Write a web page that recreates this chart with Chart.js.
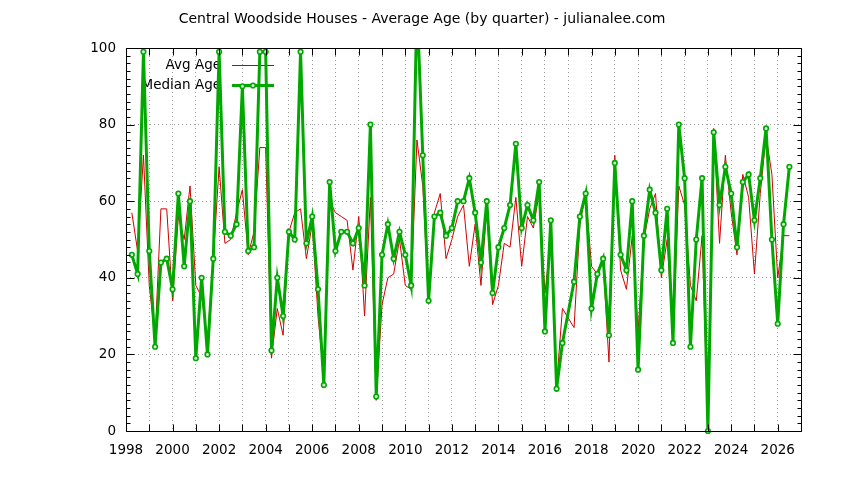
<!DOCTYPE html>
<html lang="en">

<head>
    <meta charset="UTF-8">
    <title>Central Woodside Houses - Average Age</title>
    <script src="https://cdn.jsdelivr.net/npm/chart.js"></script>
    <style>
        html, body { margin: 0; padding: 0; background: #fff; }
    </style>
</head>

<body>
    <canvas id="ageChart" width="844" height="480"></canvas>

    <script>
        // quarterly figures
        // (2017 Q1 has no data point in the source)
        const quarters = [
            '1998Q2', '1998Q3', '1998Q4',
            '1999Q1', '1999Q2', '1999Q3', '1999Q4',
            '2000Q1', '2000Q2', '2000Q3', '2000Q4',
            '2001Q1', '2001Q2', '2001Q3', '2001Q4',
            '2002Q1', '2002Q2', '2002Q3', '2002Q4',
            '2003Q1', '2003Q2', '2003Q3', '2003Q4',
            '2004Q1', '2004Q2', '2004Q3', '2004Q4',
            '2005Q1', '2005Q2', '2005Q3', '2005Q4',
            '2006Q1', '2006Q2', '2006Q3', '2006Q4',
            '2007Q1', '2007Q2', '2007Q3', '2007Q4',
            '2008Q1', '2008Q2', '2008Q3', '2008Q4',
            '2009Q1', '2009Q2', '2009Q3', '2009Q4',
            '2010Q1', '2010Q2', '2010Q3', '2010Q4',
            '2011Q1', '2011Q2', '2011Q3', '2011Q4',
            '2012Q1', '2012Q2', '2012Q3', '2012Q4',
            '2013Q1', '2013Q2', '2013Q3', '2013Q4',
            '2014Q1', '2014Q2', '2014Q3', '2014Q4',
            '2015Q1', '2015Q2', '2015Q3', '2015Q4',
            '2016Q1', '2016Q2', '2016Q3', '2016Q4',
            '2017Q2', '2017Q3', '2017Q4',
            '2018Q1', '2018Q2', '2018Q3', '2018Q4',
            '2019Q1', '2019Q2', '2019Q3', '2019Q4',
            '2020Q1', '2020Q2', '2020Q3', '2020Q4',
            '2021Q1', '2021Q2', '2021Q3', '2021Q4',
            '2022Q1', '2022Q2', '2022Q3', '2022Q4',
            '2023Q1', '2023Q2', '2023Q3', '2023Q4',
            '2024Q1', '2024Q2', '2024Q3', '2024Q4',
            '2025Q1', '2025Q2', '2025Q3', '2025Q4',
            '2026Q1', '2026Q2', '2026Q3'
        ];

        const avgAge = [
            57, 47, 72,
            38, 24, 58, 58,
            34, 56, 50, 64,
            38, 35, 24, 45,
            69, 49, 50, 57,
            63, 46, 52, 74,
            74, 19, 32, 25,
            52, 57, 58, 45,
            54, 30, 14, 60,
            57, 56, 55, 42,
            56, 30, 61, 8,
            33, 40, 41, 50,
            38, 37, 76, 64,
            34, 57, 62, 45,
            50, 56, 59, 43,
            54, 38, 58, 33,
            38, 49, 48, 61,
            43, 56, 53, 62,
            36, 50, 12, 32,
            27, 54, 62,
            43, 41, 44, 18,
            72, 42, 37, 51,
            26, 50, 58, 62,
            40, 50, 24, 64,
            59, 38, 34, 51,
            2, 79, 49, 72,
            57, 46, 67, 61,
            41, 62, 77, 67,
            40, 51, 51
        ];

        const medianAge = [
            46, 41, 99,
            47, 22, 44, 45,
            37, 62, 43, 60,
            19, 40, 20, 45,
            99, 52, 51, 54,
            90, 47, 48, 99,
            99, 21, 40, 30,
            52, 50, 99, 49,
            56, 37, 12, 65,
            47, 52, 52, 49,
            53, 38, 80, 9,
            46, 54, 45, 52,
            46, 38, 112, 72,
            34, 56, 57, 51,
            53, 60, 60, 66,
            57, 44, 60, 36,
            48, 53, 59, 75,
            53, 59, 55, 65,
            26, 55, 11, 23,
            39, 56, 62,
            32, 41, 45, 25,
            70, 46, 42, 60,
            16, 51, 63, 57,
            42, 58, 23, 80,
            66, 22, 50, 66,
            0, 78, 59, 69,
            62, 48, 65, 67,
            55, 66, 79, 50,
            28, 54, 69
        ];

        const xLabelYears = [1998, 2000, 2002, 2004, 2006, 2008, 2010, 2012, 2014, 2016, 2018, 2020, 2022, 2024, 2026];
        const yTickValues = [0, 20, 40, 60, 80, 100];

        const TITLE = 'Central Woodside Houses - Average Age (by quarter) - julianalee.com';
        const RED = '#d00000';
        const GREEN = '#00a800';
        const FONT = '"DejaVu Sans", sans-serif';

        // '2003Q2' -> 2003.25 (quarter start)
        function quarterToYear(q) {
            return parseInt(q.slice(0, 4)) + (parseInt(q.slice(5)) - 1) / 4;
        }

        function toPoints(values) {
            return quarters.map((q, i) => ({ x: quarterToYear(q), y: values[i] }));
        }

        // gnuplot look: title centred on the whole canvas, key inside top-left,
        // box and inward ticks on all four sides
        const gnuplotFrame = {
            id: 'gnuplotFrame',
            beforeDatasetsDraw(chart) {
                const ctx = chart.ctx;
                ctx.save();
                ctx.fillStyle = '#000';
                ctx.font = '14px ' + FONT;
                ctx.textAlign = 'center';
                ctx.textBaseline = 'middle';
                ctx.fillText(TITLE, chart.width / 2, 19);

                const items = [
                    { text: 'Avg Age', y: 65, color: RED, width: 1, marker: false },
                    { text: 'Median Age', y: 85, color: GREEN, width: 3, marker: true }
                ];
                ctx.font = '13.5px ' + FONT;
                ctx.textAlign = 'right';
                items.forEach(item => {
                    ctx.fillStyle = '#000';
                    ctx.fillText(item.text, 221, item.y);
                    ctx.strokeStyle = item.color;
                    ctx.lineWidth = item.width;
                    ctx.beginPath();
                    ctx.moveTo(232, item.y + 0.5);
                    ctx.lineTo(274, item.y + 0.5);
                    ctx.stroke();
                    if (item.marker) {
                        ctx.lineWidth = 1.6;
                        ctx.fillStyle = '#d8f0d8';
                        ctx.beginPath();
                        ctx.arc(253, item.y + 0.5, 2.3, 0, Math.PI * 2);
                        ctx.fill();
                        ctx.stroke();
                    }
                });
                ctx.restore();
            },
            afterDatasetsDraw(chart) {
                const ctx = chart.ctx;
                const area = chart.chartArea;
                const xs = chart.scales.x;
                const ys = chart.scales.y;
                const L = Math.round(area.left) + 0.5;
                const R = Math.round(area.right) + 0.5;
                const T = Math.round(area.top) + 0.5;
                const B = Math.round(area.bottom) + 0.5;
                ctx.save();
                ctx.strokeStyle = '#000';
                ctx.lineWidth = 1;
                ctx.beginPath();
                xs.ticks.forEach(t => {
                    const px = Math.round(xs.getPixelForValue(t.value)) + 0.5;
                    ctx.moveTo(px, B); ctx.lineTo(px, B - 7);
                    ctx.moveTo(px, T); ctx.lineTo(px, T + 7);
                });
                for (let v = ys.min; v <= ys.max; v += 2) {
                    const py = Math.round(ys.getPixelForValue(v)) + 0.5;
                    const len = yTickValues.includes(v) ? 8 : 4;
                    ctx.moveTo(L, py); ctx.lineTo(L + len, py);
                    ctx.moveTo(R, py); ctx.lineTo(R - len, py);
                }
                ctx.stroke();
                ctx.strokeRect(L, T, R - L, B - T);
                ctx.restore();
            }
        };

        const edgeGrid = (min, max) => (c) =>
            (c.tick.value === min || c.tick.value === max) ? 'rgba(0,0,0,0)' : '#a0a0a0';

        Chart.defaults.font.family = FONT;
        Chart.defaults.font.size = 13.5;
        Chart.defaults.color = '#000';

        const ctx = document.getElementById('ageChart').getContext('2d');
        new Chart(ctx, {
            type: 'line',
            data: {
                datasets: [{
                    label: 'Median Age',
                    data: toPoints(medianAge),
                    borderColor: GREEN,
                    borderWidth: 3,
                    pointRadius: 2.3,
                    pointBorderWidth: 1.6,
                    pointBorderColor: GREEN,
                    pointBackgroundColor: '#d8f0d8',
                    tension: 0,
                    clip: { left: 5, right: 5, top: 0, bottom: 5 }
                }, {
                    label: 'Avg Age',
                    data: toPoints(avgAge),
                    borderColor: RED,
                    borderWidth: 1,
                    pointRadius: 0,
                    tension: 0,
                    clip: { left: 5, right: 5, top: 0, bottom: 5 }
                }]
            },
            options: {
                responsive: false,
                animation: false,
                layout: { padding: { left: 0, right: 43, top: 48, bottom: 0 } },
                plugins: {
                    legend: { display: false },
                    tooltip: { enabled: false },
                    title: { display: false }
                },
                scales: {
                    x: {
                        type: 'linear',
                        min: 1998,
                        max: 2027,
                        afterFit: (scale) => { scale.height = 49; },
                        grid: { color: edgeGrid(1998, 2027), drawTicks: false, lineWidth: 1 },
                        border: { display: false, dash: [1, 3] },
                        ticks: {
                            stepSize: 1,
                            autoSkip: false,
                            maxRotation: 0,
                            padding: 11,
                            callback: (v) => xLabelYears.includes(v) ? String(v) : ''
                        }
                    },
                    y: {
                        min: 0,
                        max: 100,
                        afterFit: (scale) => { scale.width = 126; },
                        grid: { color: edgeGrid(0, 100), drawTicks: false, lineWidth: 1 },
                        border: { display: false, dash: [1, 3] },
                        ticks: { stepSize: 20, padding: 10 }
                    }
                }
            },
            plugins: [gnuplotFrame]
        });
    </script>
</body>

</html>
